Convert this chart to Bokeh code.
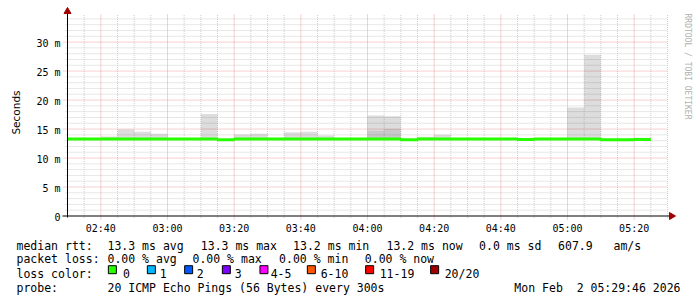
import math
from bokeh.plotting import figure
from bokeh.models import Range1d
from bokeh.embed import file_html
from bokeh.resources import INLINE
from bokeh.core.properties import value

# ---------------- data ----------------
bin_start = ["02:30", "02:35", "02:40", "02:45", "02:50", "02:55",
             "03:00", "03:05", "03:10", "03:15", "03:20", "03:25",
             "03:30", "03:35", "03:40", "03:45", "03:50", "03:55",
             "04:00", "04:05", "04:10", "04:15", "04:20", "04:25",
             "04:30", "04:35", "04:40", "04:45", "04:50", "04:55",
             "05:00", "05:05", "05:10", "05:15", "05:20"]
median_ms = [13.3, 13.3, 13.3, 13.3, 13.3, 13.3,
             13.3, 13.3, 13.3, 13.15, 13.3, 13.3,
             13.3, 13.3, 13.3, 13.3, 13.3, 13.3,
             13.3, 13.3, 13.15, 13.3, 13.3, 13.3,
             13.3, 13.3, 13.3, 13.2, 13.3, 13.3,
             13.3, 13.3, 13.15, 13.15, 13.2]
smoke_max_ms = [13.3, 13.4, 13.7, 14.9, 14.55, 14.2,
                13.4, 13.4, 17.6, 13.2, 14.05, 14.2,
                13.4, 14.45, 14.55, 13.9, 13.4, 13.4,
                17.35, 17.2, 13.2, 13.65, 14.0, 13.4,
                13.4, 13.4, 13.4, 13.35, 13.4, 13.4,
                18.7, 27.8, 13.2, 13.2, 13.5]
dense_top_ms = [13.3, 13.3, 13.3, 13.3, 13.3, 13.3,
                13.3, 13.3, 13.3, 13.15, 13.3, 13.3,
                13.3, 13.3, 13.3, 13.3, 13.3, 13.3,
                14.7, 15.0, 13.15, 13.3, 13.3, 13.3,
                13.3, 13.3, 13.3, 13.2, 13.3, 13.3,
                13.3, 13.3, 13.15, 13.15, 13.2]
bin_minutes = 5
x_start_label = "02:30"
x_end_label = "05:30"
x_tick_labels = ["02:40", "03:00", "03:20", "03:40", "04:00",
                 "04:20", "04:40", "05:00", "05:20"]
y_tick_values = [0, 5, 10, 15, 20, 25, 30]
y_tick_labels = ["0", "5 m", "10 m", "15 m", "20 m", "25 m", "30 m"]
y_top_ms = 34.85

rtt_items = ["median rtt:", "13.3 ms avg", "13.3 ms max", "13.2 ms min",
             "13.2 ms now", "0.0 ms sd", "607.9   am/s"]
loss_items = ["packet loss:", "0.00 % avg", "0.00 % max", "0.00 % min", "0.00 % now"]
loss_title = "loss color:"
loss_labels = ["0", "1", "2", "3", "4-5", "6-10", "11-19", "20/20"]
loss_colors = ["#26ff00", "#00b8ff", "#0059ff", "#7e00ff",
               "#ff00ff", "#ff5500", "#ff0000", "#a10000"]
probe_items = ["probe:", "20 ICMP Echo Pings (56 Bytes) every 300s"]
date_text = "Mon Feb  2 05:29:46 2026"
y_title = "Seconds"
watermark = "RRDTOOL / TOBI OETIKER"


def to_min(s):
    h, m = s.split(":")
    return int(h) * 60 + int(m)


def keep_spaces(s):
    # SVG collapses runs of spaces; keep the monospace layout
    return s.replace("  ", " \u00a0")


starts = [to_min(s) for s in bin_start]
ends = [s + bin_minutes for s in starts]
x0 = to_min(x_start_label)
x1 = to_min(x_end_label)
major_x = [to_min(s) for s in x_tick_labels]
minor_x = [m for m in range(x0 + 5, x1 + 1, 5) if m not in major_x]
minor_y = [v for v in range(1, int(y_top_ms) + 1) if v not in y_tick_values]

# ---------------- canvas geometry (pixels of the 697x297 page) ----------------
W, H = 697, 297
AX_LEFT, AX_RIGHT = 67, 667        # pixel columns of x0 / x1
ZERO_PY = 215.5                    # pixel row of 0 ms
PX_PER_MS = 5.797

min_per_px = (x1 - x0) / (AX_RIGHT - AX_LEFT)


def px2x(px):
    return x0 + (px - AX_LEFT) * min_per_px


def py2y(py):
    return (ZERO_PY - py) / PX_PER_MS


MONO = value("DejaVu Sans Mono")

p = figure(width=W, height=H,
           x_range=Range1d(px2x(0), px2x(W)), y_range=Range1d(py2y(H), py2y(0)),
           output_backend="svg", toolbar_location=None, min_border=0,
           x_axis_type=None, y_axis_type=None)
p.outline_line_color = None
p.background_fill_color = "white"
p.border_fill_color = "white"

GRID_MINOR = "#cfcfcf"
GRID_MAJOR = "#eca0a0"

# ---- grid ----
ext_ms = 3.5 / PX_PER_MS
ext_min = 4 * min_per_px
p.segment(x0=minor_x, x1=minor_x, y0=[-2 / PX_PER_MS] * len(minor_x), y1=[y_top_ms] * len(minor_x),
          line_color=GRID_MINOR, line_dash="1 1", line_width=1)
p.segment(x0=[x0 - 2 * min_per_px] * len(minor_y), x1=[x1] * len(minor_y), y0=minor_y, y1=minor_y,
          line_color=GRID_MINOR, line_dash="1 1", line_width=1)
p.segment(x0=major_x, x1=major_x, y0=[-ext_ms] * len(major_x), y1=[y_top_ms] * len(major_x),
          line_color=GRID_MAJOR, line_dash="1 1", line_width=1)
p.segment(x0=[x0 - ext_min] * len(y_tick_values[1:]), x1=[x1] * len(y_tick_values[1:]),
          y0=y_tick_values[1:], y1=y_tick_values[1:],
          line_color=GRID_MAJOR, line_dash="1 1", line_width=1)

# ---- smoke ----
p.quad(left=starts, right=ends, bottom=median_ms, top=smoke_max_ms,
       fill_color="black", fill_alpha=0.135, line_color=None)
p.quad(left=starts, right=ends, bottom=median_ms, top=dense_top_ms,
       fill_color="black", fill_alpha=0.09, line_color=None)

# ---- median line ----
p.step(x=starts + [ends[-1]], y=median_ms + [median_ms[-1]], mode="after",
       line_color=loss_colors[0], line_width=3)

# ---- axes with arrow heads ----
p.segment(x0=[px2x(62)], x1=[px2x(670)], y0=[0], y1=[0], line_color="black", line_width=1)
p.segment(x0=[x0], x1=[x0], y0=[py2y(217)], y1=[py2y(12)], line_color="black", line_width=1)
p.scatter(x=[px2x(671)], y=[0], marker="triangle", angle=-math.pi / 2, size=7,
          fill_color="#a00000", line_color="#a00000")
p.scatter(x=[x0], y=[py2y(11)], marker="triangle", size=7,
          fill_color="#a00000", line_color="#a00000")

# ---- tick labels ----
p.text(x=major_x, y=[0] * len(major_x), text=x_tick_labels, text_font=MONO,
       text_font_size="10px", text_color="black", text_align="center",
       text_baseline="alphabetic", y_offset=12.8)
p.text(x=[px2x(60)] * len(y_tick_values), y=y_tick_values, text=y_tick_labels, text_font=MONO,
       text_font_size="10px", text_color="black", text_align="right",
       text_baseline="middle", y_offset=1)

# ---- axis title and watermark ----
p.text(x=[px2x(15.5)], y=[py2y(112)], text=[y_title], angle=math.pi / 2,
       text_font=value("DejaVu Sans"), text_font_size="10.5px", text_color="black",
       text_align="center", text_baseline="alphabetic")
p.text(x=[px2x(687)], y=[py2y(13)], text=[watermark], angle=-math.pi / 2,
       text_font=MONO, text_font_size="8px", text_color="#b0b0b0",
       text_align="left", text_baseline="middle")

# ---- legend block ----
base_py = [245.7, 258.3, 273.3, 287.3]
rtt_px = [16, 107, 200.3, 292.6, 386, 478.6, 557.6]
loss_px = [16, 107, 192, 278.6, 364.3]
box_left_px = [107.7, 146.7, 184, 221.7, 259.3, 306.7, 365, 430]
lab_px = [122.5, 159.2, 196.2, 234.2, 270.2, 320.2, 379.2, 444.2]
probe_px = [16, 107]

txt_x = [px2x(v) for v in rtt_px + loss_px + [16] + lab_px + probe_px]
txt_y = ([py2y(base_py[0])] * len(rtt_px) + [py2y(base_py[1])] * len(loss_px)
         + [py2y(base_py[2])] * (1 + len(lab_px)) + [py2y(base_py[3])] * len(probe_px))
txt = [keep_spaces(s) for s in rtt_items + loss_items + [loss_title] + loss_labels + probe_items]
p.text(x=txt_x, y=txt_y, text=txt, text_font=MONO, text_font_size="11.5px",
       text_color="black", text_align="left", text_baseline="alphabetic")
p.text(x=[px2x(680)], y=[py2y(base_py[3])], text=[keep_spaces(date_text)], text_font=MONO,
       text_font_size="11.5px", text_color="black", text_align="right", text_baseline="alphabetic")
p.rect(x=[px2x(b + 4.15) for b in box_left_px], y=[py2y(269.2)] * len(box_left_px),
       width=8, height=8, width_units="screen", height_units="screen",
       fill_color=loss_colors, line_color="black", line_width=1)

open("out.html", "w").write(file_html(p, INLINE))
